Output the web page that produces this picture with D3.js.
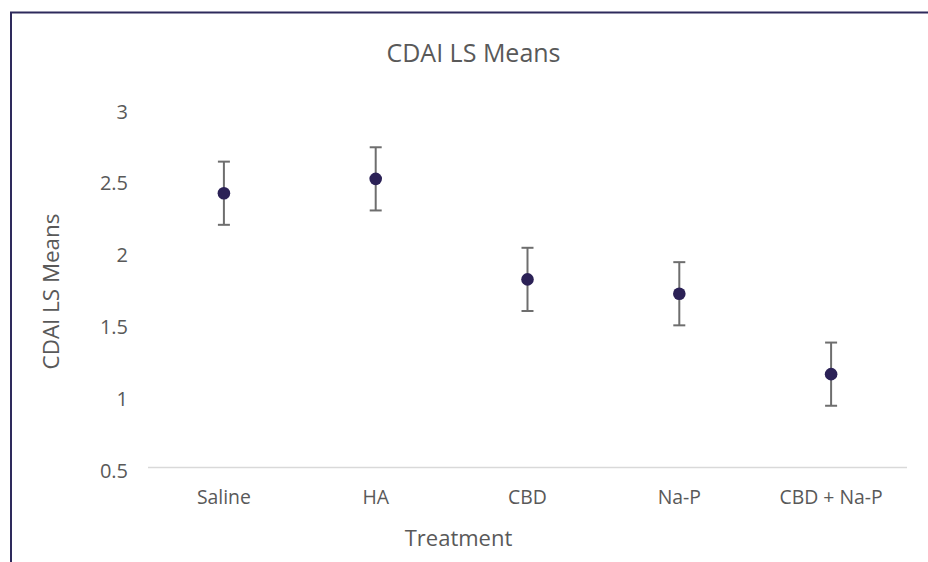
<!DOCTYPE html>
<html>
<head>
<meta charset="utf-8">
<script src="https://cdn.jsdelivr.net/npm/d3@7"></script>
<style>
  html, body { margin: 0; padding: 0; background: #fff; }
  svg { display: block; }
  text { font-family: "Open Sans", "Noto Sans", sans-serif; fill: #595959; }
</style>
</head>
<body>
<script>
const categories = ["Saline", "HA", "CBD", "Na-P", "CBD + Na-P"];
const means = [2.41, 2.51, 1.81, 1.71, 1.15];
const errors = [0.22, 0.22, 0.22, 0.22, 0.22];
const yTicks = [0.5, 1, 1.5, 2, 2.5, 3];
const titleText = "CDAI LS Means";
const xTitle = "Treatment";
const yTitle = "CDAI LS Means";

const W = 928, H = 562;
const svg = d3.select("body").append("svg").attr("width", W).attr("height", H);

// chart frame (only top and left edges visible)
svg.append("path")
  .attr("d", `M11,${H} L11,12.5 L${W},12.5`)
  .attr("fill", "none").attr("stroke", "#2e2a5c").attr("stroke-width", 2);

const x = d3.scaleBand().domain(categories).range([148, 907]).padding(0);
const y = d3.scaleLinear().domain([0.5, 3]).range([467.5, 108.5]);

// x axis line
svg.append("line")
  .attr("x1", x.range()[0]).attr("x2", x.range()[1])
  .attr("y1", y(0.5)).attr("y2", y(0.5))
  .attr("stroke", "#d9d9d9").attr("stroke-width", 1.5);

// y tick labels
svg.append("g").selectAll("text").data(yTicks).join("text")
  .attr("x", 128).attr("y", d => y(d) + 10)
  .attr("text-anchor", "end")
  .attr("font-size", 20)
  .text(d => d3.format("")(d));

// x tick labels
svg.append("g").selectAll("text").data(categories).join("text")
  .attr("x", d => x(d) + x.bandwidth() / 2)
  .attr("y", 504)
  .attr("text-anchor", "middle")
  .attr("font-size", 19.4)
  .text(d => d);

// error bars
const eb = svg.append("g").attr("stroke", "#6e6e6e").attr("stroke-width", 2).attr("fill", "none");
categories.forEach((c, i) => {
  const cx = x(c) + x.bandwidth() / 2;
  const top = y(means[i] + errors[i]), bot = y(means[i] - errors[i]);
  eb.append("line").attr("x1", cx).attr("x2", cx).attr("y1", top).attr("y2", bot);
  eb.append("line").attr("x1", cx - 6).attr("x2", cx + 6).attr("y1", top).attr("y2", top);
  eb.append("line").attr("x1", cx - 6).attr("x2", cx + 6).attr("y1", bot).attr("y2", bot);
});

// points
svg.append("g").selectAll("circle").data(categories).join("circle")
  .attr("cx", d => x(d) + x.bandwidth() / 2)
  .attr("cy", (d, i) => y(means[i]))
  .attr("r", 6.3)
  .attr("fill", "#2b2156");

// title
svg.append("text").attr("x", 473.5).attr("y", 61.7)
  .attr("text-anchor", "middle").attr("font-size", 25).text(titleText);

// x axis title
svg.append("text").attr("x", 458.5).attr("y", 546)
  .attr("text-anchor", "middle").attr("font-size", 22).text(xTitle);

// y axis title
svg.append("text").attr("transform", "translate(59,291.5) rotate(-90)")
  .attr("text-anchor", "middle").attr("font-size", 22.4).text(yTitle);
</script>
</body>
</html>
